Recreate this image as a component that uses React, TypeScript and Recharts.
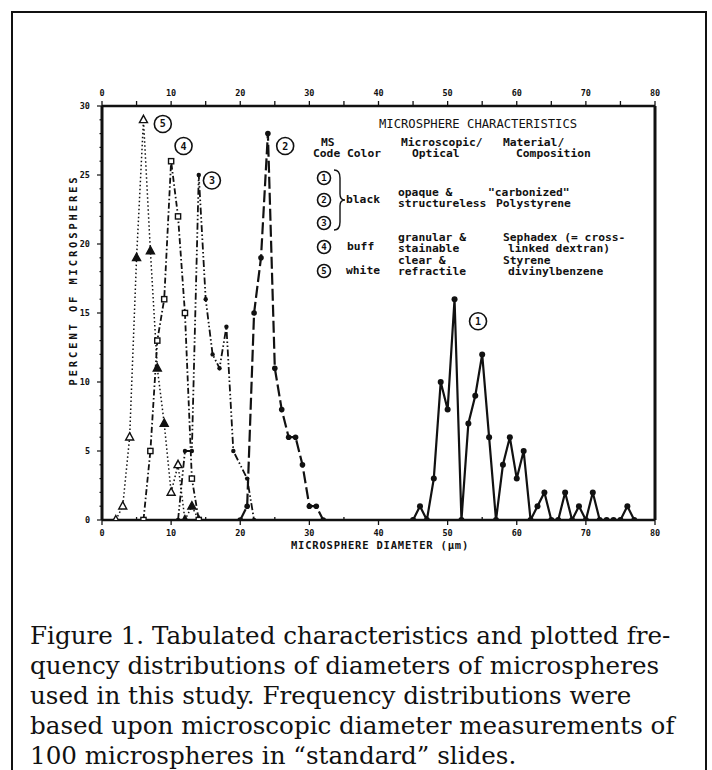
import React from "react";
import { LineChart, Line, XAxis, YAxis, ReferenceDot } from "recharts";

// axis ticks
const diamTicks = [0, 5, 10, 15, 20, 25, 30, 35, 40, 45, 50, 55, 60, 65, 70, 75, 80];
const pctTicks = [
  0, 1, 2, 3, 4, 5, 6, 7, 8, 9, 10, 11, 12, 13, 14, 15,
  16, 17, 18, 19, 20, 21, 22, 23, 24, 25, 26, 27, 28, 29, 30,
];

// frequency distributions: diameter (µm) -> percent of microspheres
const ms1Diam = [45, 46, 47, 48, 49, 50, 51, 52, 53, 54, 55, 56, 57, 58, 59, 60, 61, 62, 63, 64, 65, 66, 67, 68, 69, 70, 71, 72, 73, 74, 75, 76, 77];
const ms1Pct = [0, 1, 0, 3, 10, 8, 16, 0, 7, 9, 12, 6, 0, 4, 6, 3, 5, 0, 1, 2, 0, 0, 2, 0, 1, 0, 2, 0, 0, 0, 0, 1, 0];

const ms2Diam = [20, 21, 22, 23, 24, 25, 26, 27, 28, 29, 30, 31, 32];
const ms2Pct = [0, 1, 15, 19, 28, 11, 8, 6, 6, 4, 1, 1, 0];

const ms3Diam = [11, 12, 13, 14, 15, 16, 17, 18, 19, 21, 22];
const ms3Pct = [0, 5, 5, 25, 16, 12, 11, 14, 5, 3, 0];

const ms4Diam = [6, 7, 8, 9, 10, 11, 12, 13, 14];
const ms4Pct = [0, 5, 13, 16, 26, 22, 15, 3, 0];

const ms5Diam = [2, 3, 4, 5, 6, 7, 8, 9, 10, 11, 12, 13, 14];
const ms5Pct = [0, 1, 6, 19, 29, 19.5, 11, 7, 2, 4, 0, 1, 0];
// points printed with solid triangles
const ms5SolidAt = [5, 7, 8, 9, 12, 13];

// circled codes beside each peak: [code, diameter, percent]
const peakLabels: [string, number, number][] = [
  ["1", 54.4, 14.4],
  ["2", 26.5, 27.1],
  ["3", 15.9, 24.6],
  ["4", 11.8, 27.1],
  ["5", 8.8, 28.7],
];

const toRows = (xs: number[], ys: number[]) => xs.map((d, i) => ({ diam: d, pct: ys[i] }));

const ink = "#111";
const mono = "'DejaVu Sans Mono', 'Liberation Mono', monospace";

function TopTick({ x, y, payload }: any) {
  const v = payload.value;
  return (
    <g>
      <line x1={x} x2={x} y1={y} y2={y - 5} stroke={ink} strokeWidth={1.3} />
      {v % 10 === 0 && (
        <text x={x} y={y - 13} textAnchor="middle" dominantBaseline="middle"
          fontFamily={mono} fontSize={8.5} fontWeight={700} fill={ink}>{v}</text>
      )}
    </g>
  );
}

function BottomTick({ x, y, payload }: any) {
  const v = payload.value;
  const major = v % 10 === 0;
  return (
    <g>
      <line x1={x} x2={x} y1={y} y2={major ? y + 5 : y - 3} stroke={ink} strokeWidth={1.3} />
      {major && (
        <text x={x} y={y + 13} textAnchor="middle" dominantBaseline="middle"
          fontFamily={mono} fontSize={8.5} fontWeight={700} fill={ink}>{v}</text>
      )}
    </g>
  );
}

function LeftTick({ x, y, payload }: any) {
  const v = payload.value;
  const major = v % 5 === 0;
  return (
    <g>
      <line x1={x} x2={x - (major ? 5 : 2.5)} y1={y} y2={y} stroke={ink} strokeWidth={1.2} />
      {major && (
        <text x={x - 12} y={y} textAnchor="end" dominantBaseline="middle"
          fontFamily={mono} fontSize={8.5} fontWeight={700} fill={ink}>{v}</text>
      )}
    </g>
  );
}

const roundDot = (r: number) => (p: any) => (
  <circle key={`c-${p.index}-${p.cx}`} cx={p.cx} cy={p.cy} r={r} fill={ink} stroke="none" />
);

const squareDot = (p: any) => (
  <rect key={`s-${p.index}`} x={p.cx - 2.6} y={p.cy - 2.6} width={5.2} height={5.2}
    fill="#fff" stroke={ink} strokeWidth={1.4} />
);

const triangleDot = (p: any) => {
  const solid = ms5SolidAt.includes(p.payload.diam);
  return (
    <path key={`t-${p.index}`}
      d={`M${p.cx},${p.cy - 4.5} L${p.cx + 4},${p.cy + 2.8} L${p.cx - 4},${p.cy + 2.8} Z`}
      fill={solid ? ink : "#fff"} stroke={ink} strokeWidth={1.4} />
  );
};

function Circled({ x, y, n, r = 6.5 }: { x: number; y: number; n: string; r?: number }) {
  return (
    <g>
      <circle cx={x} cy={y} r={r} fill="#fff" stroke={ink} strokeWidth={1.6} />
      <text x={x} y={y + 0.5} textAnchor="middle" dominantBaseline="middle"
        fontFamily={mono} fontSize={9} fontWeight={700} fill={ink}>{n}</text>
    </g>
  );
}

const tbl = { fontFamily: mono, fontSize: 11.3, fontWeight: 700, fill: ink } as const;

function Table() {
  const T = (x: number, y: number, s: string) => (
    <text x={x} y={y} dominantBaseline="middle" style={{ whiteSpace: "pre" }} {...tbl}>{s}</text>
  );
  return (
    <g>
      <text x={379} y={124} dominantBaseline="middle" fontFamily={mono} fontSize={12.2} fill={ink}>
        MICROSPHERE CHARACTERISTICS
      </text>
      {T(321, 143, "MS")}
      {T(313, 154, "Code Color")}
      {T(401, 143, "Microscopic/")}
      {T(412, 154, "Optical")}
      {T(503, 143, "Material/")}
      {T(516, 154, "Composition")}

      <Circled x={324} y={178} n="1" />
      <Circled x={324} y={200} n="2" />
      <Circled x={324} y={223} n="3" />
      <Circled x={324} y={247} n="4" />
      <Circled x={324} y={271} n="5" />
      <path d="M334,170 Q340,170 340,178 L340,194 Q340,200 345,200 Q340,200 340,206 L340,222 Q340,230 334,230"
        fill="none" stroke={ink} strokeWidth={1.4} />

      {T(346, 200, "black")}
      {T(398, 193, "opaque &")}
      {T(398, 204, "structureless")}
      {T(488, 193, "\"carbonized\"")}
      {T(496, 204, "Polystyrene")}

      {T(347, 247, "buff")}
      {T(398, 238, "granular &")}
      {T(398, 249, "stainable")}
      {T(503, 238, "Sephadex (= cross-")}
      {T(508, 249, "linked dextran)")}

      {T(346, 271, "white")}
      {T(398, 261, "clear &")}
      {T(398, 272, "refractile")}
      {T(503, 261, "Styrene")}
      {T(508, 272, "divinylbenzene")}

      <text x={74} y={280} textAnchor="middle" dominantBaseline="middle"
        transform="rotate(-90 74 280)" fontFamily={mono} fontSize={10.5} fontWeight={700}
        letterSpacing={2.85} fill={ink}>PERCENT OF MICROSPHERES</text>
      <text x={380} y={546} textAnchor="middle" dominantBaseline="middle"
        fontFamily={mono} fontSize={10.5} fontWeight={700} letterSpacing={0.8} fill={ink}>
        MICROSPHERE DIAMETER (µm)
      </text>
    </g>
  );
}

const captionLines = [
  "Figure 1. Tabulated characteristics and plotted fre-",
  "quency distributions of diameters of microspheres",
  "used in this study. Frequency distributions were",
  "based upon microscopic diameter measurements of",
  "100 microspheres in \u201cstandard\u201d slides.",
];

export default function App() {
  return (
    <div style={{ position: "absolute", left: 0, top: 0, width: 712, height: 770, overflow: "hidden", background: "#fff" }}>
      <div style={{ position: "absolute", left: 11, top: 11, width: 696, height: 800, border: `2px solid ${ink}`, boxSizing: "border-box" }} />
      <div style={{ position: "absolute", left: 0, top: 0 }}>
        <LineChart width={712} height={600} margin={{ top: 86, right: 47, bottom: 40, left: 62 }}>
          <XAxis xAxisId="top" orientation="top" type="number" dataKey="diam" domain={[0, 80]}
            ticks={diamTicks} interval={0} tick={TopTick} tickLine={false} tickSize={0} tickMargin={0}
            height={20} axisLine={{ stroke: ink, strokeWidth: 2.5 }} allowDataOverflow />
          <XAxis type="number" dataKey="diam" domain={[0, 80]} ticks={diamTicks} interval={0}
            tick={BottomTick} tickLine={false} tickSize={0} tickMargin={0} height={40}
            axisLine={{ stroke: ink, strokeWidth: 2.5 }} allowDataOverflow />
          <YAxis type="number" domain={[0, 30]} ticks={pctTicks} interval={0} tick={LeftTick}
            tickLine={false} tickSize={0} tickMargin={0} width={40}
            axisLine={{ stroke: ink, strokeWidth: 3 }} allowDataOverflow />
          <YAxis yAxisId="right" orientation="right" type="number" domain={[0, 30]} tick={false}
            tickLine={false} width={10} axisLine={{ stroke: ink, strokeWidth: 3 }} />

          <Line data={toRows(ms5Diam, ms5Pct)} dataKey="pct" type="linear" stroke={ink}
            strokeWidth={1.5} strokeDasharray="1.5 2.5" dot={triangleDot} activeDot={false}
            isAnimationActive={false} />
          <Line data={toRows(ms4Diam, ms4Pct)} dataKey="pct" type="linear" stroke={ink}
            strokeWidth={1.8} strokeDasharray="6 2.5 1.5 2.5" dot={squareDot} activeDot={false}
            isAnimationActive={false} />
          <Line data={toRows(ms3Diam, ms3Pct)} dataKey="pct" type="linear" stroke={ink}
            strokeWidth={1.8} strokeDasharray="7 2.5 1.5 2.5 1.5 2.5" dot={roundDot(2.2)} activeDot={false}
            isAnimationActive={false} />
          <Line data={toRows(ms2Diam, ms2Pct)} dataKey="pct" type="linear" stroke={ink}
            strokeWidth={2.2} strokeDasharray="12 4" dot={roundDot(2.8)} activeDot={false}
            isAnimationActive={false} />
          <Line data={toRows(ms1Diam, ms1Pct)} dataKey="pct" type="linear" stroke={ink}
            strokeWidth={2.2} dot={roundDot(3)} activeDot={false} isAnimationActive={false} />

          {peakLabels.map(([n, d, p]) => (
            <ReferenceDot key={n} x={d} y={p} r={8.5} fill="#fff" stroke={ink} strokeWidth={1.6}
              label={{ value: n, position: "center", fill: ink, fontSize: 10, fontWeight: 700, fontFamily: mono }} />
          ))}
        </LineChart>
      </div>
      <svg width={712} height={600} style={{ position: "absolute", left: 0, top: 0, pointerEvents: "none" }}>
        <Table />
      </svg>
      <div style={{ position: "absolute", left: 30, top: 621, fontFamily: "'DejaVu Serif', serif", fontSize: 24.6, lineHeight: "30px", color: ink, whiteSpace: "nowrap" }}>
        {captionLines.map((l) => (
          <div key={l}>{l}</div>
        ))}
      </div>
    </div>
  );
}
